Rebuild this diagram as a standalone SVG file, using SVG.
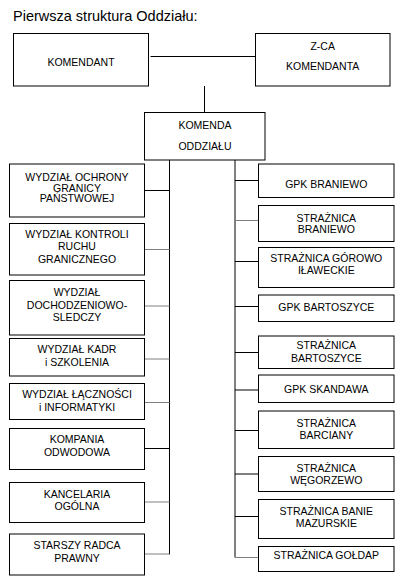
<svg xmlns="http://www.w3.org/2000/svg" width="403" height="583" viewBox="0 0 403 583">
<style>
rect{fill:#fff;stroke:#000;stroke-width:1}
text{font-family:"Liberation Sans",Arial,sans-serif;font-size:10.5px;text-anchor:middle;fill:#000}
.t{font-size:14.5px;text-anchor:start}
.k{stroke:#000;stroke-width:1;fill:none}
.g{stroke:#808080;stroke-width:1;fill:none}
.gv{stroke:#808080;stroke-width:2;fill:none}
</style>
<rect x="0" y="0" width="403" height="583" style="stroke:none"/>
<text class="t" x="13" y="20.5">Pierwsza struktura Oddziału:</text>
<g id="connectors">
<path class="k" d="M150.5 56.5H255.5"/>
<path class="k" d="M204.5 86V113"/>
<path class="k" d="M169.5 160V554.5"/>
<path class="gv" d="M235 160V557.5"/>
<path class="k" d="M144.5 190.5H169.5"/>
<path class="g" d="M144.5 249.5H169.5"/>
<path class="g" d="M144.5 306H169.5"/>
<path class="g" d="M144.5 359H169.5"/>
<path class="g" d="M144.5 402.5H169.5"/>
<path class="k" d="M144.5 448.5H169.5"/>
<path class="g" d="M144.5 502H169.5"/>
<path class="g" d="M144.5 554H169.5"/>
<path class="k" d="M235 180.5H258.5"/>
<path class="g" d="M235 220.5H258.5"/>
<path class="k" d="M235 261.5H258.5"/>
<path class="k" d="M235 306.5H258.5"/>
<path class="k" d="M235 352.5H258.5"/>
<path class="k" d="M235 390H258.5"/>
<path class="k" d="M235 430.5H258.5"/>
<path class="k" d="M235 474H258.5"/>
<path class="k" d="M235 516.5H258.5"/>
<path class="g" d="M235 557.5H258.5"/>
</g>
<g id="komendant"><rect x="13.5" y="33.5" width="135" height="52.5"/><text x="81" y="65.5">KOMENDANT</text></g>
<g id="zca"><rect x="255.5" y="33.5" width="134.5" height="52.5"/><text x="322.7" y="50">Z-CA</text><text x="322.7" y="69.5">KOMENDANTA</text></g>
<g id="komenda"><rect x="144.5" y="112.5" width="120.5" height="47.5"/><text x="205" y="128.5">KOMENDA</text><text x="205" y="150">ODDZIAŁU</text></g>

<g id="ochrony"><rect x="9.5" y="164" width="135" height="53"/><text x="77" y="180.7">WYDZIAŁ OCHRONY</text><text x="77" y="191.5">GRANICY</text><text x="77" y="202.3">PAŃSTWOWEJ</text></g>
<g id="kontroli"><rect x="9.5" y="223.5" width="135" height="51.5"/><text x="77" y="237.5">WYDZIAŁ KONTROLI</text><text x="77" y="250">RUCHU</text><text x="77" y="262.5">GRANICZNEGO</text></g>
<g id="dochodzeniowo"><rect x="9.5" y="280.5" width="135" height="54.5"/><text x="77" y="296">WYDZIAŁ</text><text x="77" y="308.5">DOCHODZENIOWO-</text><text x="77" y="320.5">SLEDCZY</text></g>
<g id="kadr"><rect x="9.5" y="338.5" width="135" height="37.5"/><text x="77" y="353.3">WYDZIAŁ KADR</text><text x="77" y="366">i SZKOLENIA</text></g>
<g id="lacznosci"><rect x="9.5" y="383.5" width="135" height="36"/><text x="77" y="398.3">WYDZIAŁ ŁĄCZNOŚCI</text><text x="77" y="410.7">i INFORMATYKI</text></g>
<g id="kompania"><rect x="9.5" y="428.5" width="135" height="41"/><text x="77" y="443.3">KOMPANIA</text><text x="77" y="456">ODWODOWA</text></g>
<g id="kancelaria"><rect x="9.5" y="482.5" width="135" height="40"/><text x="77" y="497.7">KANCELARIA</text><text x="77" y="510">OGÓLNA</text></g>
<g id="radca"><rect x="9.5" y="534" width="135" height="41"/><text x="77" y="549.3">STARSZY RADCA</text><text x="77" y="562.3">PRAWNY</text></g>

<g id="gpk-braniewo"><rect x="258.5" y="164" width="135.5" height="33.5"/><text x="326.3" y="188.3">GPK BRANIEWO</text></g>
<g id="str-braniewo"><rect x="258.5" y="205.5" width="135.5" height="36"/><text x="326.3" y="221.7">STRAŻNICA</text><text x="326.3" y="232.7">BRANIEWO</text></g>
<g id="str-gorowo"><rect x="258.5" y="247.5" width="135.5" height="40"/><text x="326.3" y="261.7">STRAŻNICA GÓROWO</text><text x="326.3" y="274">IŁAWECKIE</text></g>
<g id="gpk-bartoszyce"><rect x="258.5" y="295" width="135.5" height="26.5"/><text x="326.3" y="310.7">GPK BARTOSZYCE</text></g>
<g id="str-bartoszyce"><rect x="258.5" y="336" width="135.5" height="32.5"/><text x="326.3" y="349.3">STRAŻNICA</text><text x="326.3" y="361.7">BARTOSZYCE</text></g>
<g id="gpk-skandawa"><rect x="258.5" y="375" width="135.5" height="27.5"/><text x="326.3" y="392.7">GPK SKANDAWA</text></g>
<g id="str-barciany"><rect x="258.5" y="411" width="135.5" height="37.5"/><text x="326.3" y="426.7">STRAŻNICA</text><text x="326.3" y="439.3">BARCIANY</text></g>
<g id="str-wegorzewo"><rect x="258.5" y="456.5" width="135.5" height="35"/><text x="326.3" y="471.7">STRAŻNICA</text><text x="326.3" y="484">WĘGORZEWO</text></g>
<g id="str-banie"><rect x="258.5" y="499.5" width="135.5" height="39"/><text x="326.3" y="515">STRAŻNICA BANIE</text><text x="326.3" y="527.3">MAZURSKIE</text></g>
<g id="str-goldap"><rect x="258.5" y="546.5" width="135.5" height="25"/><text x="326.3" y="559.3">STRAŻNICA GOŁDAP</text></g>
</svg>
